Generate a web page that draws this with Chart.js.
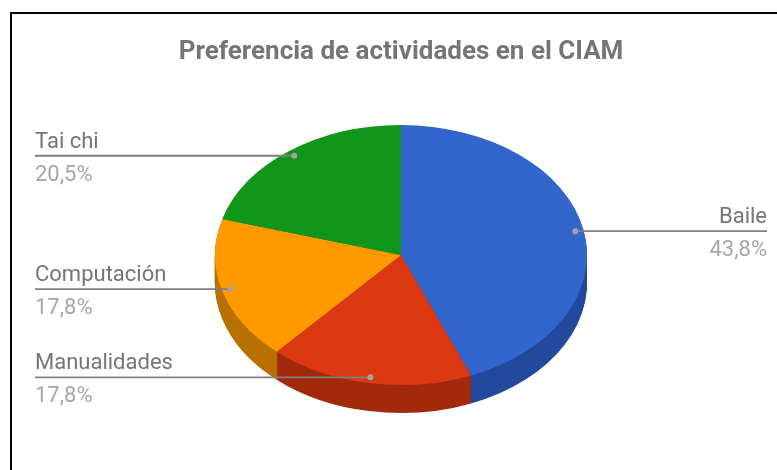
<!DOCTYPE html>
<html lang="es">
<head>
<meta charset="utf-8">
<title>Preferencia de actividades en el CIAM</title>
<script src="https://cdn.jsdelivr.net/npm/chart.js@4"></script>
<style>
html,body{margin:0;padding:0;background:#fff;overflow:hidden}
#wrap{position:relative;width:777px;height:470px}
#frame{position:absolute;left:10px;top:12px;right:0;bottom:0;border-left:2px solid #000;border-top:2px solid #000;pointer-events:none}
canvas{position:absolute;left:0;top:0}
</style>
</head>
<body>
<div id="wrap"><canvas id="c" width="777" height="470"></canvas><div id="frame"></div></div>
<script>
const titleText = 'Preferencia de actividades en el CIAM';
const categories = ['Baile', 'Manualidades', 'Computación', 'Tai chi'];
const shares = [43.8, 17.8, 17.8, 20.5];
const shareLabels = ['43,8%', '17,8%', '17,8%', '20,5%'];
const topColors = ['#3366cc', '#dc3912', '#ff9900', '#109618'];
const wallColors = ['#234a9e', '#a32a0d', '#b87000', '#0b6c11'];

const squash = 130 / 186;   // vertical foreshortening of the disc
const depth = 28;           // thickness of the disc in pixels
const dotRadiusShare = 0.955;
const leftTextX = 35, rightTextX = 767;

const tilted = {
  id: 'tilted',
  beforeDatasetsDraw(chart) {
    const ctx = chart.ctx;
    const arcs = chart.getDatasetMeta(0).data;
    const cy = arcs[0].y;
    for (let d = depth; d >= 1; d--) {
      arcs.forEach((arc, i) => {
        const original = arc.options;
        const wall = Object.create(original);
        wall.backgroundColor = wallColors[i];
        wall.borderColor = wallColors[i];
        arc.options = wall;
        ctx.save();
        ctx.translate(0, cy + d);
        ctx.scale(1, squash);
        ctx.translate(0, -cy);
        arc.draw(ctx);
        ctx.restore();
        arc.options = original;
      });
    }
    ctx.save();
    ctx.translate(0, cy);
    ctx.scale(1, squash);
    ctx.translate(0, -cy);
  },
  afterDatasetsDraw(chart) {
    const ctx = chart.ctx;
    ctx.restore();
    const arcs = chart.getDatasetMeta(0).data;
    arcs.forEach((arc, i) => {
      const mid = (arc.startAngle + arc.endAngle) / 2;
      const r = arc.outerRadius * dotRadiusShare;
      const x = arc.x + Math.cos(mid) * r;
      const y = arc.y + Math.sin(mid) * r * squash;
      const right = Math.cos(mid) > 0;
      const textX = right ? rightTextX : leftTextX;
      ctx.save();
      ctx.strokeStyle = '#7f7f7f';
      ctx.lineWidth = 1.8;
      ctx.beginPath();
      ctx.moveTo(textX, y);
      ctx.lineTo(x, y);
      ctx.stroke();
      ctx.fillStyle = '#a3a3a3';
      ctx.beginPath();
      ctx.arc(x, y, 3, 0, Math.PI * 2);
      ctx.fill();
      ctx.textAlign = right ? 'right' : 'left';
      ctx.textBaseline = 'alphabetic';
      ctx.font = '22px Roboto';
      ctx.fillStyle = '#757575';
      ctx.fillText(categories[i], textX, y - 8);
      ctx.fillStyle = '#a6a6a6';
      ctx.fillText(shareLabels[i], textX, y + 25);
      ctx.restore();
    });
  }
};

new Chart(document.getElementById('c'), {
  type: 'pie',
  data: {
    labels: categories,
    datasets: [{
      data: shares,
      backgroundColor: topColors,
      borderWidth: 0,
      radius: 186,
      clip: false
    }]
  },
  options: {
    responsive: false,
    animation: false,
    layout: { padding: { left: 25, right: 0, top: 38, bottom: 29 } },
    plugins: {
      legend: { display: false },
      tooltip: { enabled: false },
      title: {
        display: true,
        text: titleText,
        color: '#757575',
        font: { family: 'Roboto', size: 26, weight: 'bold', lineHeight: 1.1 },
        padding: { top: 0, bottom: 2.4 }
      }
    }
  },
  plugins: [tilted]
});
</script>
</body>
</html>
